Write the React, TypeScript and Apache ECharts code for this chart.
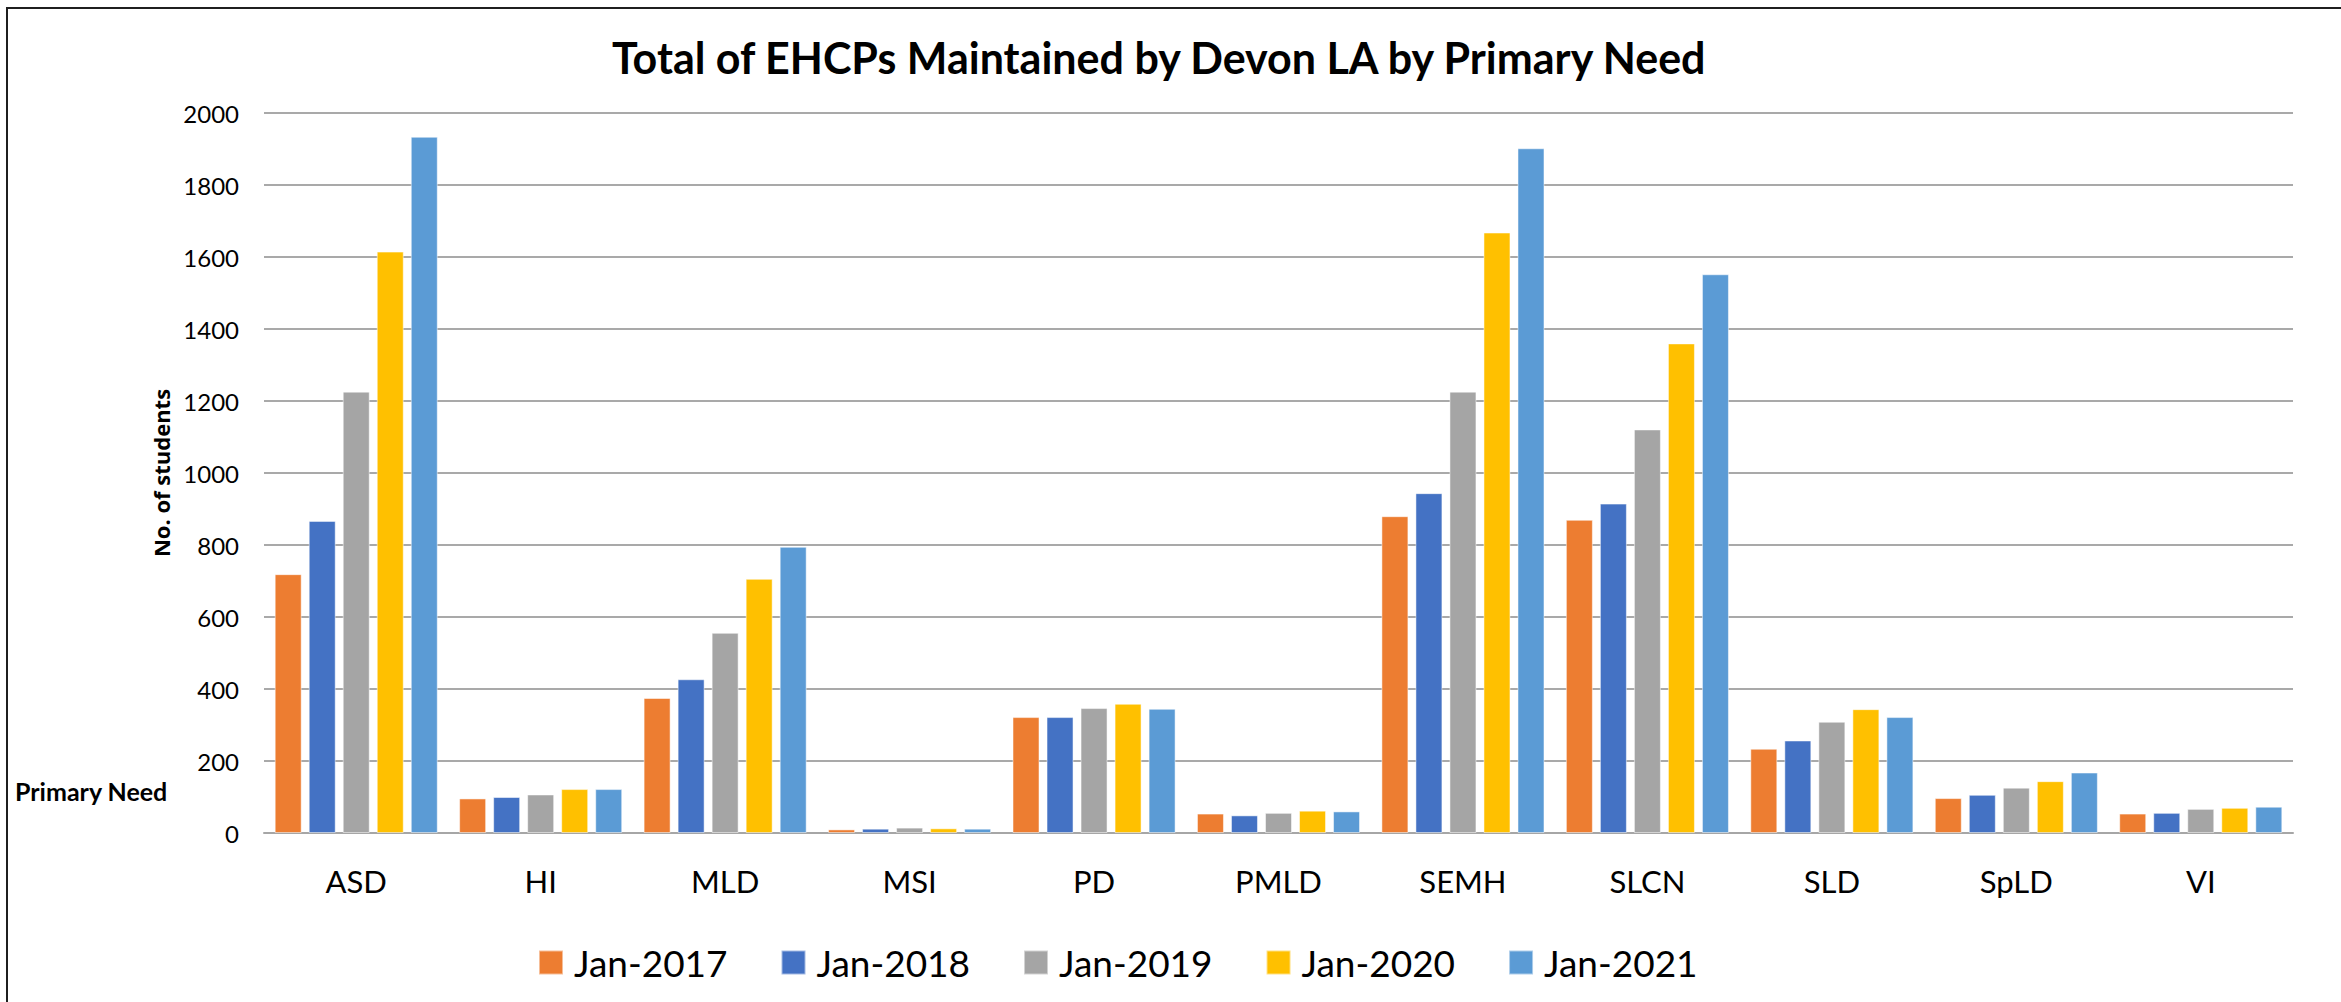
import React, { useEffect, useRef } from "react";
import * as echarts from "echarts";

const categories = ["ASD", "HI", "MLD", "MSI", "PD", "PMLD", "SEMH", "SLCN", "SLD", "SpLD", "VI"];
const seriesNames = ["Jan-2017", "Jan-2018", "Jan-2019", "Jan-2020", "Jan-2021"];
const jan2017 = [719, 96, 375, 10, 322, 54, 880, 870, 234, 97, 54];
const jan2018 = [867, 100, 427, 12, 322, 49, 944, 915, 257, 106, 56];
const jan2019 = [1226, 107, 556, 15, 347, 56, 1226, 1121, 309, 126, 67];
const jan2020 = [1615, 122, 706, 13, 359, 62, 1668, 1360, 344, 144, 70];
const jan2021 = [1934, 122, 795, 12, 345, 60, 1902, 1552, 322, 168, 73];
const seriesValues = [jan2017, jan2018, jan2019, jan2020, jan2021];
const colors = ["#ED7D31", "#4472C4", "#A5A5A5", "#FFC000", "#5B9BD5"];
const yTicks = { min: 0, max: 2000, interval: 200 };

const FONT = "Lato, 'Noto Sans', sans-serif";

export default function App() {
  const ref = useRef<HTMLDivElement>(null);
  useEffect(() => {
    if (!ref.current) return;
    const chart = echarts.init(ref.current, null, { renderer: "svg" });
    chart.setOption({
      animation: false,
      backgroundColor: "#ffffff",
      color: colors,
      title: {
        text: "Total of EHCPs Maintained by Devon LA by Primary Need",
        left: 612,
        top: 36,
        padding: 0,
        textStyle: { fontFamily: FONT, fontWeight: "bold", fontSize: 43, color: "#000" },
      },
      legend: {
        data: seriesNames,
        left: 538,
        top: 944,
        padding: 0,
        itemWidth: 24,
        itemHeight: 24,
        itemGap: 53,
        icon: "rect",
        textStyle: { fontFamily: FONT, fontSize: 37, color: "#000", padding: [0, 0, 0, 6] },
      },
      grid: { left: 264, right: 48, top: 113, bottom: 169, containLabel: false },
      xAxis: {
        type: "category",
        data: categories,
        axisTick: { show: false },
        axisLine: { lineStyle: { color: "#a6a6a6", width: 2 } },
        axisLabel: { interval: 0, fontFamily: FONT, fontSize: 31, color: "#000", margin: 32 },
      },
      yAxis: {
        type: "value",
        min: yTicks.min,
        max: yTicks.max,
        interval: yTicks.interval,
        name: "No. of students",
        nameLocation: "middle",
        nameGap: 88,
        nameTextStyle: { fontFamily: "'Open Sans', sans-serif", fontWeight: "bold", fontSize: 22, color: "#000" },
        axisLine: { show: false },
        axisTick: { show: false },
        axisLabel: { fontFamily: FONT, fontSize: 24, color: "#000", margin: 25, formatter: (v: number) => String(v) },
        splitLine: { lineStyle: { color: "#8c8c8c", width: 1.5 } },
      },
      graphic: [
        {
          type: "polyline",
          shape: { points: [[7, 1002], [7, 8], [2341, 8]] },
          style: { stroke: "#1f1f1f", lineWidth: 2, fill: "none" },
          silent: true,
        },
        {
          type: "text",
          left: 15,
          top: 778,
          style: { text: "Primary Need", fontFamily: FONT, fontWeight: "bold", fontSize: 25, fill: "#000" },
          silent: true,
        },
      ],
      series: seriesNames.map((name, i) => ({
        name,
        type: "bar",
        data: seriesValues[i],
        barWidth: 27,
        barGap: "26%",
        itemStyle: { color: colors[i], borderColor: "rgba(255,255,255,0.5)", borderWidth: 1 },
      })),
    });
    return () => chart.dispose();
  }, []);
  return <div ref={ref} style={{ position: "fixed", left: 0, top: 0, width: 2341, height: 1002 }} />;
}
